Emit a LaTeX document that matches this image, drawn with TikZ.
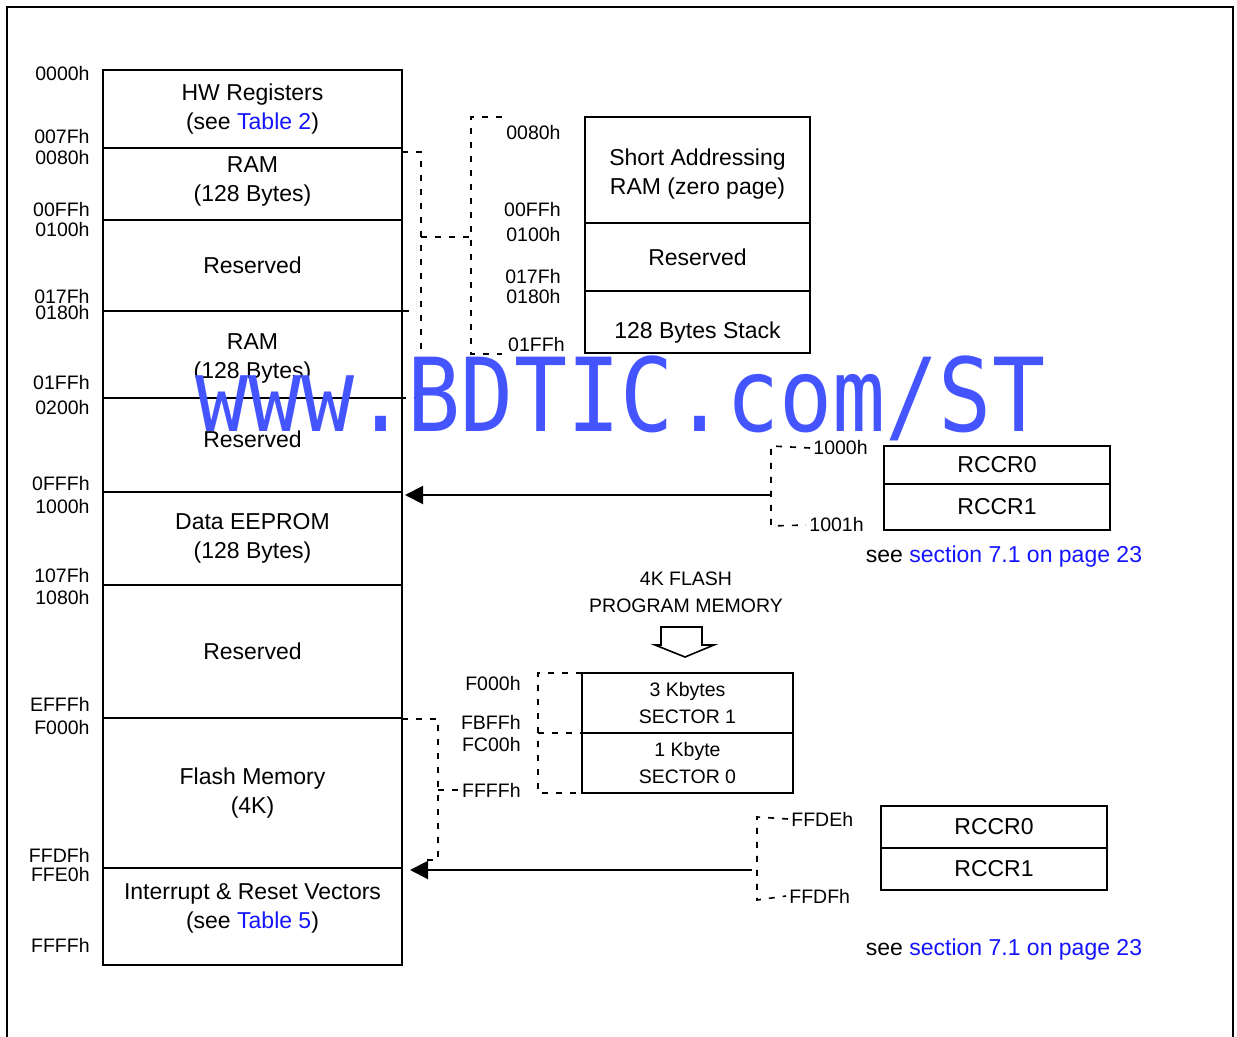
\documentclass[tikz,border=0pt]{standalone}
\usepackage{xcolor}
\usepackage{fontspec}
\setmainfont{Liberation Sans}
\newfontfamily\wmfont{DejaVu Sans Mono}
\usetikzlibrary{positioning,arrows.meta}
\definecolor{linkblue}{RGB}{20,20,255}
\definecolor{wmblue}{RGB}{68,85,255}

\begin{document}
\begin{tikzpicture}
[x=0.5pt,y=-0.5pt,
memrow/.style={rectangle,draw=black,line width=1pt,inner sep=0pt,outer sep=0pt,minimum width=149.5pt,align=center,font=\fontsize{11.5}{14.5}\selectfont},
zprow/.style={memrow,minimum width=112.5pt},
rcrow/.style={memrow,minimum width=113pt},
secrow/.style={memrow,minimum width=105.5pt,minimum height=30pt,font=\fontsize{9.75}{13.5}\selectfont},
addr/.style={inner sep=1.5pt,font=\fontsize{9.75}{11}\selectfont},
note/.style={inner sep=0pt,font=\fontsize{11.5}{14}\selectfont},
dsh/.style={draw=black,line width=0.8pt,dash pattern=on 3pt off 4pt},
arr/.style={draw=black,line width=1pt,-{Triangle[length=9pt,width=9pt]}}]
\useasboundingbox (0,0) rectangle (1237,1037);
% outer frame
\draw[line width=1pt] (7,1037) -- (7,7) -- (1233,7) -- (1233,1037);

% memory map
\node[memrow,minimum height=39pt] (hw) at (252.5,109) {HW Registers\\(see \textcolor{linkblue}{Table 2})};
\node[memrow,minimum height=36pt,text depth=4.9pt,below=0pt of hw] (ram1) {RAM\\(128 Bytes)};
\node[memrow,minimum height=45.5pt,below=0pt of ram1] (res1) {Reserved};
\node[memrow,minimum height=43.5pt,text height=26.8pt,below=0pt of res1] (ram2) {RAM\\(128 Bytes)};
\node[memrow,minimum height=47pt,text depth=6pt,below=0pt of ram2] (res2) {Reserved};
\node[memrow,minimum height=46.5pt,below=0pt of res2] (eep) {Data EEPROM\\(128 Bytes)};
\node[memrow,minimum height=66.5pt,below=0pt of eep] (res3) {Reserved};
\node[memrow,minimum height=75pt,below=0pt of res3] (flash) {Flash Memory\\(4K)};
\node[memrow,minimum height=48.5pt,text depth=10.4pt,below=0pt of flash] (vec) {Interrupt \& Reset Vectors\\(see \textcolor{linkblue}{Table 5})};
\draw[line width=1pt] (res1.south east) -- ++(7,0);

% addresses
\foreach \y/\t in {74/0000h,137/007Fh,158/0080h,210/00FFh,230/0100h,297/017Fh,313/0180h,383/01FFh,408/0200h,484/0FFFh,507/1000h,576/107Fh,598/1080h,704/EFFFh,728/F000h,855/FFDFh,875/FFE0h,945/FFFFh}
  \node[addr,anchor=east] (m\t) at (93,\y) {\t};

% zero page detail
\node[zprow,minimum height=53pt,text height=26.8pt] (zp) at (697.5,170) {Short Addressing\\RAM (zero page)};
\node[zprow,minimum height=34pt,below=0pt of zp] (zres) {Reserved};
\node[zprow,minimum height=31pt,text height=19.3pt,below=0pt of zres] (stack) {128 Bytes Stack};
\foreach \y/\t in {133/0080h,210/00FFh,235/0100h,277/017Fh,297/0180h}
  \node[addr,anchor=east] (z\t) at (564,\y) {\t};
\node[addr,anchor=east] (z01FFh) at (568,345) {01FFh};
\draw[dsh] ([yshift=-2pt]ram1.north east) -- ++(19,0) coordinate (d1) -- (d1 |- res2.north) -- (res2.north east);
\draw[dsh] (d1 |- 0,237) -- (471,237);
\coordinate (b1t) at (502,117);
\coordinate (b1b) at (502,354);
\draw[dsh] (b1t) -- (471,117) -- (471,354) -- (b1b);

% RCCR at 1000h
\node[rcrow,minimum height=19pt] (rcA0) at (997,465) {RCCR0};
\node[rcrow,minimum height=23pt,below=0pt of rcA0] (rcA1) {RCCR1};
\node[addr,anchor=west] (r1000) at (810,448) {1000h};
\node[addr,anchor=west] (r1001) at (806,525) {1001h};
\coordinate (c1) at (771,495);
\draw[dsh] (r1000.west) -- (771,446) -- (771,526) -- (r1001.west);
\draw[arr] (c1) -- ([xshift=1.5pt]c1 -| eep.east);
\node[note] (seeA) at (1004,557) {see \textcolor{linkblue}{section 7.1 on page 23}};

% flash sectors
\node[addr,align=center,font=\fontsize{9.75}{13.5}\selectfont] (fltitle) at (686,592) {4K FLASH\\PROGRAM MEMORY};
\draw[line width=0.8pt] (661,627) -- (702,627) -- (702,645) -- (714,645) -- (685,657) -- (655,645) -- (661,645) -- cycle;
\node[secrow] (sec1) at (687.5,703) {3 Kbytes\\SECTOR 1};
\node[secrow,below=0pt of sec1] (sec0) {1 Kbyte\\SECTOR 0};
\node[addr,anchor=east] (sF000h) at (524,684) {F000h};
\node[addr,anchor=east] (sFBFFh) at (524,722) {FBFFh};
\node[addr,anchor=east] (sFC00h) at (524,745) {FC00h};
\node[addr,anchor=east] (sFFFFh) at (524,790) {FFFFh};
\draw[dsh] (sec1.north west) -- ++(-44,0) coordinate (d3) -- (d3 |- sec0.south) -- (sec0.south west);
\draw[dsh] (d3 |- sec1.south) -- (sec1.south west);
\draw[dsh] ([yshift=-0.5pt]flash.north east) -- ++(36,0) coordinate (d2) -- ++(0,141) -- ++(-14,0);
\draw[dsh] (d2 |- sFFFFh.west) -- (sFFFFh.west);

% RCCR at FFDEh
\node[rcrow,minimum height=21pt] (rcB0) at (994,827) {RCCR0};
\node[rcrow,minimum height=21pt,below=0pt of rcB0] (rcB1) {RCCR1};
\node[addr,anchor=west] (rFFDEh) at (788,819) {FFDEh};
\node[addr,anchor=west] (rFFDFh) at (786,896) {FFDFh};
\coordinate (c2) at (752,870);
\draw[dsh] (rFFDEh.west) -- (757,817) -- (757,900) -- (rFFDFh.west);
\draw[arr] (c2) -- ([xshift=4pt]c2 -| vec.east);
\node[note] (seeB) at (1004,950) {see \textcolor{linkblue}{section 7.1 on page 23}};

% watermark
\node[anchor=base west,inner sep=0pt,text=wmblue,font=\wmfont\fontsize{51}{51}\selectfont,xscale=0.865] (wm) at (195,432) {www.BDTIC.com/ST};
\end{tikzpicture}
\end{document}
